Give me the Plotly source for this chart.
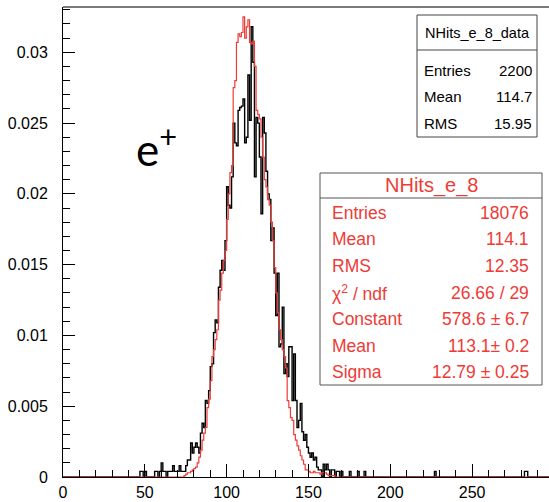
import numpy as np
import plotly.graph_objects as go

# ---- data (bin width 1, range 0-300) ----
n_bins = 300
x_range = [0, 297]
y_range = [0, 0.0332]

red_start = 74
red_values = [
    0.0001, 0.0002, 0.0003, 0.0003, 0.0004, 0.0005, 0.0006, 0.0007, 0.0010, 0.0014,   # 74-83
    0.0019, 0.0026, 0.0031, 0.0035, 0.0049, 0.0055, 0.0068, 0.0085, 0.0090, 0.0097,   # 84-93
    0.0104, 0.0125, 0.0132, 0.0144, 0.0153, 0.0160, 0.0182, 0.0200, 0.0215, 0.0220,   # 94-103
    0.0275, 0.0280, 0.0307, 0.0313, 0.0311, 0.0314, 0.0325, 0.0310, 0.0318, 0.0323,   # 104-113
    0.0307, 0.0306, 0.0308, 0.0290, 0.0259, 0.0256, 0.0253, 0.0240, 0.0226, 0.0210,   # 114-123
    0.0205, 0.0196, 0.0192, 0.0180, 0.0167, 0.0148, 0.0130, 0.0116, 0.0104, 0.0097,   # 124-133
    0.0090, 0.0085, 0.0077, 0.0054, 0.0049, 0.0042, 0.0040, 0.0030, 0.0026, 0.0022,   # 134-143
    0.0019, 0.0015, 0.0012, 0.0009, 0.0005, 0.0005, 0.0004, 0.0003, 0.0003, 0.0004,   # 144-153
    0.0003, 0.0003, 0.0003, 0.0002, 0.0003, 0.0003, 0.0003, 0.0002, 0.0001, 0.0001,   # 154-163
    0.0001, 0.0001,                                                                   # 164-165
]

black_start = 47
black_values = [
    0.0004, 0.0004, 0.0, 0.0004, 0.0, 0.0, 0.0, 0.0, 0.0, 0.0004,                     # 47-56
    0.0004, 0.0, 0.0004, 0.0010, 0.0004, 0.0004, 0.0, 0.0004, 0.0004, 0.0004,         # 57-66
    0.0008, 0.0004, 0.0004, 0.0004, 0.0008, 0.0004, 0.0004, 0.0004, 0.0008, 0.0012,   # 67-76
    0.0012, 0.0024, 0.0017, 0.0021, 0.0024, 0.0021, 0.0017, 0.0031, 0.0038, 0.0035,   # 77-86
    0.0054, 0.0052, 0.0061, 0.0078, 0.0080, 0.0102, 0.0111, 0.0109, 0.0134, 0.0146,   # 87-96
    0.0153, 0.0146, 0.0167, 0.0205, 0.0192, 0.0190, 0.0212, 0.0250, 0.0236, 0.0234,   # 97-106
    0.0259, 0.0261, 0.0262, 0.0267, 0.0236, 0.0240, 0.0284, 0.0252, 0.0318, 0.0293,   # 107-116
    0.0212, 0.0254, 0.0250, 0.0226, 0.0186, 0.0254, 0.0243, 0.0216, 0.0200, 0.0196,   # 117-126
    0.0167, 0.0176, 0.0144, 0.0114, 0.0144, 0.0092, 0.0094, 0.0120, 0.0073, 0.0080,   # 127-136
    0.0071, 0.0092, 0.0092, 0.0054, 0.0087, 0.0054, 0.0035, 0.0040, 0.0052, 0.0032,   # 137-146
    0.0026, 0.0030, 0.0021, 0.0017, 0.0014, 0.0017, 0.0012, 0.0014, 0.0007, 0.0005,   # 147-156
    0.0005, 0.0, 0.0009, 0.0005, 0.0009, 0.0005, 0.0, 0.0005, 0.0005, 0.0,            # 157-166
    0.0004, 0.0004, 0.0, 0.0004, 0.0, 0.0, 0.0, 0.0, 0.0004, 0.0,                     # 167-176
    0.0, 0.0, 0.0, 0.0004, 0.0, 0.0, 0.0, 0.0004,                                     # 177-184
]
black_extra = {227: 0.0004, 282: 0.0004, 283: 0.0004}

data_stats = [("Entries", "2200"), ("Mean", "114.7"), ("RMS", "15.95")]
mc_stats = [("Entries", "18076"), ("Mean", "114.1"), ("RMS", "12.35"),
            ("χ<sup>2</sup> / ndf", "26.66 / 29"), ("Constant", "578.6 ± 6.7"),
            ("Mean", "113.1± 0.2"), ("Sigma", "12.79 ± 0.25")]


def full_hist(start, values, extra=None):
    h = np.zeros(n_bins)
    h[start:start + len(values)] = values
    if extra:
        for k, v in extra.items():
            h[k] = v
    return h


edges = np.arange(n_bins + 1)
red_h = full_hist(red_start, red_values)
black_h = full_hist(black_start, black_values, black_extra)


def step_xy(h):
    return list(edges), list(h) + [h[-1]]


RED = "#ee3b36"
fig = go.Figure()
bx, by = step_xy(black_h)
fig.add_trace(go.Scatter(x=bx, y=by, mode="lines", line=dict(color="black", width=1.4, shape="hv"),
                         hoverinfo="skip", showlegend=False))
rx, ry = step_xy(red_h)
fig.add_trace(go.Scatter(x=rx, y=ry, mode="lines", line=dict(color=RED, width=1.2, shape="hv"),
                         hoverinfo="skip", showlegend=False))

W, H = 549, 502
L, R, T, B = 63, 0, 7, 25
pw, ph = W - L - R, H - T - B


def px(xp):
    return (xp - L) / pw


def py(yp):
    return (H - B - yp) / ph


tickfont = dict(family="Liberation Sans", size=16, color="black")
fig.update_layout(
    width=W, height=H, margin=dict(l=L, r=R, t=T, b=B),
    plot_bgcolor="white", paper_bgcolor="white",
    xaxis=dict(range=x_range, showgrid=False, zeroline=False, showline=True, linecolor="black",
               linewidth=1, ticks="inside", ticklen=13, tickcolor="black", dtick=50, tick0=0,
               tickfont=tickfont, ticklabelstandoff=1,
               minor=dict(ticks="inside", ticklen=7, dtick=10, tickcolor="black")),
    yaxis=dict(range=y_range, showgrid=False, zeroline=False, showline=True, linecolor="black",
               linewidth=1, ticks="inside", ticklen=12, tickcolor="black", dtick=0.005, tick0=0,
               tickfont=tickfont, ticklabelstandoff=11, tickformat="~g",
               minor=dict(ticks="inside", ticklen=7, dtick=0.001, tickcolor="black")),
)

shapes = []
annotations = []
# top frame line
shapes.append(dict(type="line", xref="paper", yref="paper", x0=0, x1=1, y0=1, y1=1,
                   line=dict(color="#7a7a7a", width=2)))

# data stat box
shapes.append(dict(type="rect", xref="paper", yref="paper", x0=px(417), x1=px(537), y0=py(137), y1=py(15),
                   fillcolor="white", line=dict(color="#444444", width=1)))
shapes.append(dict(type="line", xref="paper", yref="paper", x0=px(417), x1=px(537), y0=py(50), y1=py(50),
                   line=dict(color="#444444", width=1)))
annotations.append(dict(xref="paper", yref="paper", x=px(477), y=py(33), text="NHits_e_8_data",
                        showarrow=False, xanchor="center", yanchor="middle",
                        font=dict(family="Liberation Sans", size=14.5, color="black")))
for i, (lab, val) in enumerate(data_stats):
    yy = py(70 + i * 26.5)
    annotations.append(dict(xref="paper", yref="paper", x=px(422), y=yy, text=lab, showarrow=False,
                            xanchor="left", yanchor="middle",
                            font=dict(family="Liberation Sans", size=15, color="black")))
    annotations.append(dict(xref="paper", yref="paper", x=px(534), y=yy, text=val, showarrow=False,
                            xanchor="right", yanchor="middle",
                            font=dict(family="Liberation Sans", size=15, color="black")))

# MC stat box
shapes.append(dict(type="rect", xref="paper", yref="paper", x0=px(320), x1=px(542), y0=py(385), y1=py(173),
                   fillcolor="white", line=dict(color="#555555", width=1)))
shapes.append(dict(type="line", xref="paper", yref="paper", x0=px(320), x1=px(542), y0=py(198), y1=py(198),
                   line=dict(color="#555555", width=1)))
annotations.append(dict(xref="paper", yref="paper", x=px(431), y=py(185), text="NHits_e_8",
                        showarrow=False, xanchor="center", yanchor="middle",
                        font=dict(family="Liberation Sans", size=20, color=RED)))
for i, (lab, val) in enumerate(mc_stats):
    yy = py(213 + i * 26.5)
    annotations.append(dict(xref="paper", yref="paper", x=px(330), y=yy, text=lab, showarrow=False,
                            xanchor="left", yanchor="middle",
                            font=dict(family="Liberation Sans", size=17.5, color=RED)))
    annotations.append(dict(xref="paper", yref="paper", x=px(531), y=yy, text=val, showarrow=False,
                            xanchor="right", yanchor="middle",
                            font=dict(family="Liberation Sans", size=17.5, color=RED)))

# particle label
annotations.append(dict(xref="paper", yref="paper", x=px(134), y=py(146), text="e<sup>+</sup>",
                        showarrow=False, xanchor="left", yanchor="middle",
                        font=dict(family="Lato", size=44, color="black")))

fig.update_layout(shapes=shapes, annotations=annotations)
fig.write_html("out.html")
